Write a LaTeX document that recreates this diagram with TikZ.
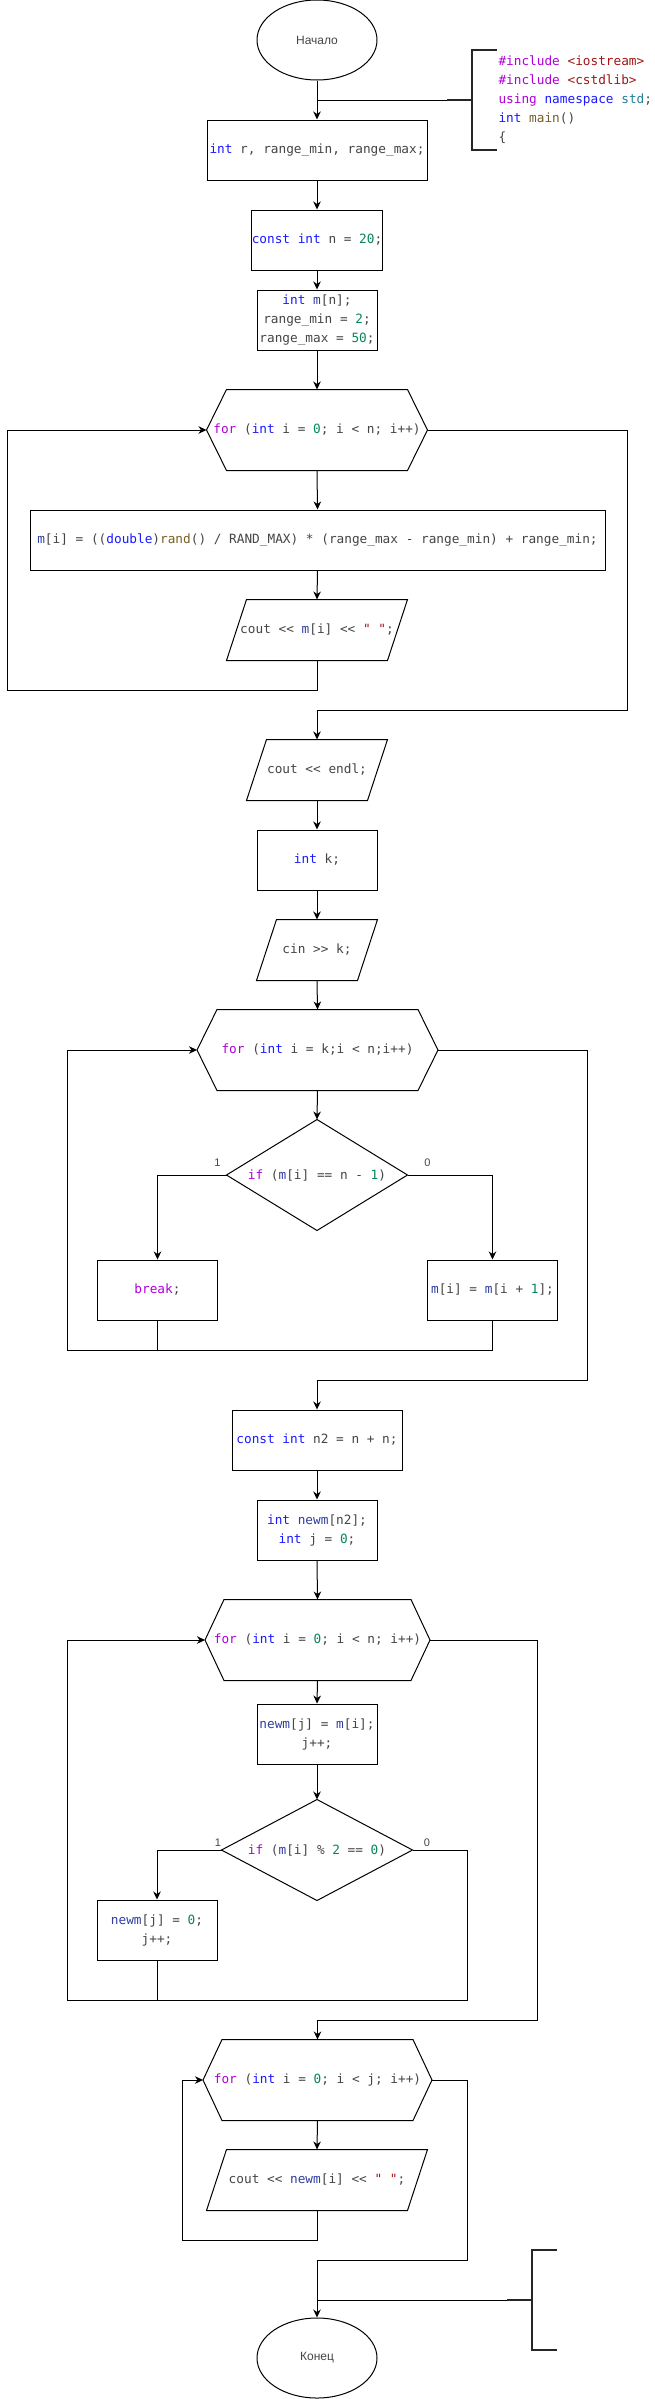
\documentclass[tikz,border=0pt]{standalone}
\usepackage{fontspec}
\setmainfont{Liberation Sans}
\setmonofont{DejaVu Sans Mono}
\usetikzlibrary{arrows.meta,shapes.geometric}
\definecolor{ctxt}{HTML}{454545}
\definecolor{ckwc}{HTML}{1A1AFF}
\definecolor{cctc}{HTML}{B000DB}
\definecolor{cnmc}{HTML}{098658}
\definecolor{cvrc}{HTML}{2F3F9F}
\definecolor{cfnc}{HTML}{795E26}
\definecolor{cstc}{HTML}{A31515}
\definecolor{ctyc}{HTML}{267F99}
\newcommand{\ckw}[1]{\textcolor{ckwc}{#1}}
\newcommand{\cct}[1]{\textcolor{cctc}{#1}}
\newcommand{\cnm}[1]{\textcolor{cnmc}{#1}}
\newcommand{\cvr}[1]{\textcolor{cvrc}{#1}}
\newcommand{\cfn}[1]{\textcolor{cfnc}{#1}}
\newcommand{\cst}[1]{\textcolor{cstc}{#1}}
\newcommand{\cty}[1]{\textcolor{ctyc}{#1}}
\tikzset{
  cfont/.style={font=\ttfamily\fontsize{12.75}{19}\selectfont, text=ctxt, align=center},
  pbox/.style={cfont, draw, rectangle, inner sep=0pt, minimum width=#1, minimum height=60},
  ghost/.style={cfont, rectangle, inner sep=0pt, minimum width=#1, minimum height=60},
  ghosth/.style={cfont, rectangle, inner sep=0pt, minimum width=#1, minimum height=80},
  term/.style={draw, ellipse, inner sep=0pt, minimum width=120, minimum height=80, font=\fontsize{12}{14}\selectfont, text=ctxt},
  flow/.style={line width=1pt},
  arr/.style={line width=1pt, -{Stealth[length=8pt,width=7.5pt,inset=2.5pt]}},
  brk/.style={line width=2pt, draw=black!85},
  lbl/.style={font=\fontsize{11}{13}\selectfont, text=ctxt, inner sep=0pt},
}
\begin{document}
\begin{tikzpicture}[x=1pt,y=-1pt,line width=1pt]
\fill[white] (0,0) rectangle (654,2399);
\path[use as bounding box] (0,0) rectangle (654,2399);

% nodes
\node[term] (start) at (317,40) {Начало};
\node[pbox=220] (b1) at (317,150) {\ckw{int} r, range\_min, range\_max;};
\node[pbox=130] (b2) at (317,240) {\ckw{const} \ckw{int} n = \cnm{20};};
\node[pbox=120] (b3) at (317,320) {\ckw{int} \cvr{m}[n];\\range\_min = \cnm{2};\\range\_max = \cnm{50};};
\node[ghosth=220] (h1) at (317,430) {\cct{for} (\ckw{int} i = \cnm{0}; i < n; i++)};
\node[pbox=575] (b4) at (317.5,540) {\cvr{m}[i] = ((\ckw{double})\cfn{rand}() / RAND\_MAX) * (range\_max - range\_min) + range\_min;};
\node[ghost=180] (p1) at (317,630) {cout << \cvr{m}[i] << \cst{" "};};
\node[ghost=140] (p2) at (317,770) {cout << endl;};
\node[pbox=120] (b5) at (317,860) {\ckw{int} k;};
\node[ghost=120] (p3) at (317,950) {cin >> k;};
\node[ghosth=240] (h2) at (317.5,1050) {\cct{for} (\ckw{int} i = k;i < n;i++)};
\node[cfont, rectangle, inner sep=0pt, minimum width=180, minimum height=110] (d1) at (317,1175) {\cct{if} (\cvr{m}[i] == n - \cnm{1})};
\node[pbox=120] (bbreak) at (157.5,1290) {\cct{break};};
\node[pbox=130] (bshift) at (492.5,1290) {\cvr{m}[i] = \cvr{m}[i + \cnm{1}];};
\node[pbox=170] (b6) at (317,1440) {\ckw{const} \ckw{int} n2 = n + n;};
\node[pbox=120] (b7) at (317,1530) {\ckw{int} \cvr{newm}[n2];\\\ckw{int} j = \cnm{0};};
\node[ghosth=224] (h3) at (317.5,1640) {\cct{for} (\ckw{int} i = \cnm{0}; i < n; i++)};
\node[pbox=120] (b8) at (317,1734) {\cvr{newm}[j] = \cvr{m}[i];\\j++;};
\node[cfont, rectangle, inner sep=0pt, minimum width=190, minimum height=100] (d2) at (317,1850) {\cct{if} (\cvr{m}[i] \% \cnm{2} == \cnm{0})};
\node[pbox=120] (b9) at (157,1930) {\cvr{newm}[j] = \cnm{0};\\j++;};
\node[ghosth=228] (h4) at (317.5,2080) {\cct{for} (\ckw{int} i = \cnm{0}; i < j; i++)};
\node[ghost=220] (p4) at (317,2180) {cout << \cvr{newm}[i] << \cst{" "};};
\node[term] (end) at (317,2358) {Конец};

% code header
\node[cfont, align=left, anchor=west, inner sep=0pt] (code) at (498,100) {\cct{\#include} \cst{<iostream>}\\\cct{\#include} \cst{<cstdlib>}\\\cct{using} \ckw{namespace} \cty{std};\\\ckw{int} \cfn{main}()\\\{};

% outlines of hexagons
\foreach \h/\d in {h1/20,h2/20,h3/19,h4/19}{
  \draw ([xshift=\d pt]\h.north west) -- ([xshift=-\d pt]\h.north east) -- (\h.east) -- ([xshift=-\d pt]\h.south east) -- ([xshift=\d pt]\h.south west) -- (\h.west) -- cycle;
}
% parallelograms
\foreach \p in {p1,p2,p3,p4}{
  \draw ([xshift=20pt]\p.north west) -- (\p.north east) -- ([xshift=-20pt]\p.south east) -- (\p.south west) -- cycle;
}
% diamonds
\foreach \q in {d1,d2}{
  \draw (\q.north) -- (\q.east) -- (\q.south) -- (\q.west) -- cycle;
}

% coordinates
\coordinate (bk1) at (447,100);
\coordinate (l1) at (7,690);
\coordinate (r1) at (627,710);
\coordinate (l2) at (67.5,1350);
\coordinate (r2) at (587,1380);
\coordinate (c3) at (467,2000);
\coordinate (l3) at (67,2000);
\coordinate (r3) at (537,2020);
\coordinate (l4) at (182,2240);
\coordinate (r4) at (467,2260);
\coordinate (bk2) at (507,2300);

% connectors
\draw[arr] (start.south) -- (b1.north);
\draw[arr] (b1.south) -- (b2.north);
\draw[arr] (b2.south) -- (b3.north);
\draw[arr] (b3.south) -- (h1.north);
\draw[arr] (h1.south) -- (b4.north);
\draw[arr] (b4.south) -- (p1.north);
\draw[arr] (p1.south) |- (l1) |- (h1.west);
\draw[arr] (h1.east) -| (r1) -| (p2.north);
\draw[arr] (p2.south) -- (b5.north);
\draw[arr] (b5.south) -- (p3.north);
\draw[arr] (p3.south) -- (h2.north);
\draw[arr] (h2.south) -- (d1.north);
\draw[arr] (d1.west) -| (bbreak.north);
\draw[arr] (d1.east) -| (bshift.north);
\draw[flow] (bbreak.south) -- (bbreak.south |- l2);
\draw[arr] (bshift.south) |- (l2) |- (h2.west);
\draw[arr] (h2.east) -| (r2) -| (b6.north);
\draw[arr] (b6.south) -- (b7.north);
\draw[arr] (b7.south) -- (h3.north);
\draw[arr] (h3.south) -- (b8.north);
\draw[arr] (b8.south) -- (d2.north);
\draw[arr] (d2.west) -| (b9.north);
\draw[flow] (b9.south) -- (b9.south |- l3);
\draw[arr] (d2.east) -| (c3) -- (l3) |- (h3.west);
\draw[arr] (h3.east) -| (r3) -| (h4.north);
\draw[arr] (h4.south) -- (p4.north);
\draw[arr] (p4.south) |- (l4) |- (h4.west);
\draw[arr] (h4.east) -| (r4) -| (end.north);

% branch labels
\node[lbl] (one1) at (217.5,1163) {1};
\node[lbl] (zero1) at (427.5,1163) {0};
\node[lbl] (one2) at (218,1843) {1};
\node[lbl] (zero2) at (427,1843) {0};

% comment brackets
\draw[flow] (start.south |- bk1) -- (bk1);
\draw[brk] (bk1) -- (472,100);
\draw[brk] (497,50) -- (472,50) -- (472,150) -- (497,150);
\draw[flow] (end.north |- bk2) -- (bk2);
\draw[brk] (bk2) -- (532,2300);
\draw[brk] (557,2250) -- (532,2250) -- (532,2350) -- (557,2350);
\end{tikzpicture}
\end{document}
